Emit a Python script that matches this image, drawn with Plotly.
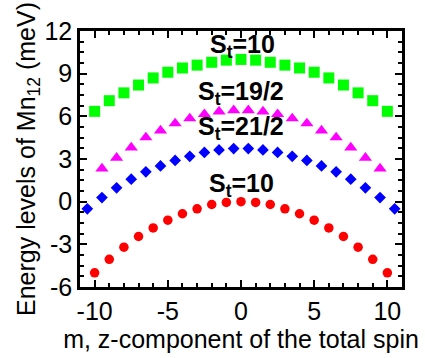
import plotly.graph_objects as go

# Spin projections
m_int = list(range(-10, 11))
m_half_19 = [v + 0.5 for v in range(-10, 10)]
m_half_21 = [v + 0.5 for v in range(-11, 11)]

# Energy levels (meV)
e_st10_excited = [6.35, 7.1, 7.65, 8.2, 8.7, 9.1, 9.4, 9.6, 9.8, 9.95, 10.0,
                  9.95, 9.8, 9.6, 9.4, 9.1, 8.7, 8.2, 7.65, 7.1, 6.35]
e_st19_2 = [2.33, 3.08, 3.8, 4.52, 5.0, 5.5, 5.85, 6.15, 6.34, 6.42,
            6.42, 6.34, 6.15, 5.85, 5.5, 5.0, 4.52, 3.8, 3.08, 2.33]
e_st21_2 = [-0.5, 0.29, 0.97, 1.58, 2.1, 2.51, 2.9, 3.19, 3.46, 3.64, 3.73,
            3.73, 3.64, 3.46, 3.19, 2.9, 2.51, 2.1, 1.58, 0.97, 0.29, -0.5]
e_st10_ground = [-5.0, -4.05, -3.2, -2.45, -1.85, -1.3, -0.85, -0.5, -0.2, -0.05, 0.0,
                 -0.05, -0.2, -0.5, -0.85, -1.3, -1.85, -2.45, -3.2, -4.05, -5.0]

# Tick positions and labels (plain hyphen as minus sign)
x_ticks = [-10, -5, 0, 5, 10]
x_ticklabels = ["-10", "-5", "0", "5", "10"]
y_ticks = [-6, -3, 0, 3, 6, 9, 12]
y_ticklabels = ["-6", "-3", "0", "3", "6", "9", "12"]

FONT = "Liberation Sans, Arial, sans-serif"

fig = go.Figure()
fig.add_trace(go.Scatter(x=m_int, y=e_st10_excited, mode="markers",
                         marker=dict(symbol="square", size=11, color="#00ff00")))
fig.add_trace(go.Scatter(x=m_half_19, y=e_st19_2, mode="markers",
                         marker=dict(symbol="triangle-up", size=11.5, color="#ff00ff")))
fig.add_trace(go.Scatter(x=m_half_21, y=e_st21_2, mode="markers",
                         marker=dict(symbol="diamond", size=9, color="#0000ff")))
fig.add_trace(go.Scatter(x=m_int, y=e_st10_ground, mode="markers",
                         marker=dict(symbol="circle", size=9.5, color="#ff0000")))

labels = [
    (0.07, 10.95, "S<sub>t</sub>=10"),
    (-0.03, 7.65, "S<sub>t</sub>=19/2"),
    (-0.03, 5.15, "S<sub>t</sub>=21/2"),
    (0.03, 1.2, "S<sub>t</sub>=10"),
]
for lx, ly, txt in labels:
    fig.add_annotation(x=lx, y=ly, xref="x", yref="y", text="<b>" + txt + "</b>",
                       showarrow=False, xanchor="center", yanchor="middle",
                       font=dict(family=FONT, size=25, color="black"))

axis_common = dict(
    showline=True, linecolor="black", linewidth=2.5, mirror="allticks",
    ticks="inside", ticklen=7, tickwidth=2, tickcolor="black",
    showgrid=False, zeroline=False,
    tickfont=dict(family=FONT, size=25, color="black"),
)

fig.update_xaxes(range=[-11, 11], tickmode="array", tickvals=x_ticks, ticktext=x_ticklabels,
                 minor=dict(dtick=1, tick0=0, ticks="inside", ticklen=4, tickwidth=1.5,
                            tickcolor="black", showgrid=False),
                 title=dict(text="m, z-component of the total spin", standoff=4,
                            font=dict(family=FONT, size=25, color="black")),
                 **axis_common)
fig.update_yaxes(range=[-6, 12], tickmode="array", tickvals=y_ticks, ticktext=y_ticklabels,
                 minor=dict(dtick=0.75, tick0=0, ticks="inside", ticklen=4, tickwidth=1.5,
                            tickcolor="black", showgrid=False),
                 title=dict(text="Energy levels of Mn<sub>12</sub> (meV)", standoff=2,
                            font=dict(family=FONT, size=25, color="black")),
                 **axis_common)

fig.update_layout(
    width=425, height=358,
    margin=dict(l=80, r=23, t=31, b=62),
    plot_bgcolor="white", paper_bgcolor="white",
    showlegend=False,
)

fig.write_html("out.html")
